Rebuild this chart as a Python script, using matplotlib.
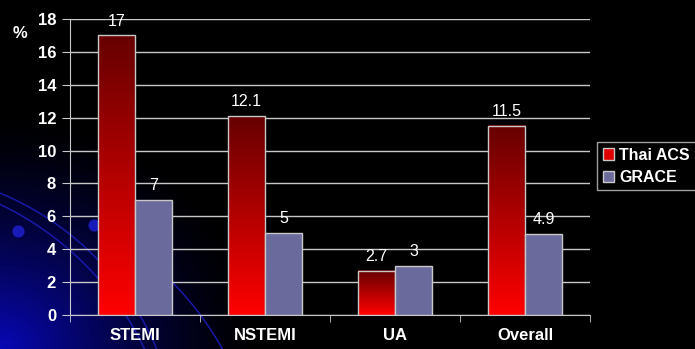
import numpy as np
import matplotlib.pyplot as plt
from matplotlib.colors import LinearSegmentedColormap

plt.rcParams['font.family'] = ['Liberation Sans', 'DejaVu Sans']

categories = ['STEMI', 'NSTEMI', 'UA', 'Overall']
thai_acs = [17, 12.1, 2.7, 11.5]
grace = [7, 5, 3, 4.9]
yticks = [0, 2, 4, 6, 8, 10, 12, 14, 16, 18]

W, H = 695, 349
fig = plt.figure(figsize=(W / 100, H / 100), dpi=100, facecolor='black')

# backdrop: blue glow in the lower left corner with a few thin arcs
bg = fig.add_axes([0, 0, 1, 1])
bg.set_xlim(0, W)
bg.set_ylim(H, 0)
bg.axis('off')
gx, gy = np.meshgrid(np.arange(W), np.arange(H))
d = np.hypot(gx / 1.1, (H - gy) * 1.0) / 240.0
glow = np.clip(1 - d, 0, 1) ** 1.5
img = np.zeros((H, W, 3))
img[..., 0] = 0.03 * glow
img[..., 1] = 0.03 * glow
img[..., 2] = 0.72 * glow
bg.imshow(img, extent=(0, W, H, 0), aspect='auto', zorder=0)


def circle_arc(p1, p2, p3, n=200):
    (x1, y1), (x2, y2), (x3, y3) = p1, p2, p3
    a = np.array([[x2 - x1, y2 - y1], [x3 - x1, y3 - y1]]) * 2
    b = np.array([x2**2 - x1**2 + y2**2 - y1**2, x3**2 - x1**2 + y3**2 - y1**2])
    cx, cy = np.linalg.solve(a, b)
    r = np.hypot(x1 - cx, y1 - cy)
    t1 = np.arctan2(y1 - cy, x1 - cx)
    t3 = np.arctan2(y3 - cy, x3 - cx)
    t = np.linspace(t1, t3, n)
    return cx + r * np.cos(t), cy + r * np.sin(t)


for pts in [((-5, 191), (100, 262), (158, 352)),
            ((-5, 202), (95, 275), (146, 352)),
            ((95, 226), (172, 282), (224, 352))]:
    ax_, ay_ = circle_arc(*pts)
    bg.plot(ax_, ay_, color='#1818a8', lw=1.1, zorder=1)
bg.scatter([18, 94], [231, 225], s=60, color='#1a1ab8', zorder=1)

ax = fig.add_axes([70 / W, 1 - 315 / H, 520 / W, 296 / H])
ax.patch.set_alpha(0)

x = np.arange(len(categories))
w = 0.285
red_cmap = LinearSegmentedColormap.from_list('red', ['#ff0000', '#660000'])

bars_red = ax.bar(x - w / 2, thai_acs, w, facecolor='none',
                  edgecolor='#c8c8c8', lw=1, zorder=4)
bars_grace = ax.bar(x + w / 2, grace, w, color='#6a6a9c',
                    edgecolor='#c8c8c8', lw=1, zorder=4)

grad = np.linspace(0, 1, 256).reshape(-1, 1)
for b in bars_red:
    x0, y0 = b.get_x(), b.get_y()
    ax.imshow(grad, cmap=red_cmap, origin='lower', aspect='auto',
              extent=(x0, x0 + b.get_width(), y0, y0 + b.get_height()),
              zorder=3)

for bars, vals in [(bars_red, thai_acs), (bars_grace, grace)]:
    for b, v in zip(bars, vals):
        ax.annotate(f'{v:g}', (b.get_x() + b.get_width() / 2, v),
                    xytext=(0, 5), textcoords='offset points',
                    ha='center', va='bottom', color='white', fontsize=11.5)

ax.set_xlim(-0.5, len(categories) - 0.5)
ax.set_ylim(0, 18)
ax.set_yticks(yticks)
ax.set_yticklabels([str(t) for t in yticks], color='white',
                   fontsize=12, fontweight='bold')
ax.set_xticks(x)
ax.set_xticklabels(categories, color='white', fontsize=12,
                   fontweight='bold')
ax.set_xticks(np.arange(len(categories) + 1) - 0.5, minor=True)
ax.tick_params(axis='x', which='major', length=0, pad=9)
ax.tick_params(axis='x', which='minor', length=5, color='#c8c8c8',
               direction='out')
ax.tick_params(axis='y', length=6, color='#c8c8c8', pad=4)
ax.grid(axis='y', color='#c8c8c8', lw=1, zorder=1)
ax.set_axisbelow(True)
for side in ['top', 'right']:
    ax.spines[side].set_visible(False)
for side in ['left', 'bottom']:
    ax.spines[side].set_color('#c8c8c8')

fig.text(20 / W, 1 - 33 / H, '%', color='white', fontsize=12,
         fontweight='bold', ha='center', va='center')

leg = fig.legend([bars_red[0], bars_grace[0]], ['Thai ACS', 'GRACE'],
                 loc='upper left', bbox_to_anchor=(597 / W, 1 - 142 / H),
                 frameon=True, fancybox=False, fontsize=11.5,
                 handlelength=0.7, handleheight=0.7, handletextpad=0.35,
                 borderpad=0.35, labelspacing=0.45, borderaxespad=0)
leg.get_frame().set_facecolor('black')
leg.get_frame().set_edgecolor('#c8c8c8')
leg.legend_handles[0].set_facecolor('#e00000')
for t in leg.get_texts():
    t.set_color('white')
    t.set_fontweight('bold')

fig.savefig('out.png', dpi=100, facecolor='black')
